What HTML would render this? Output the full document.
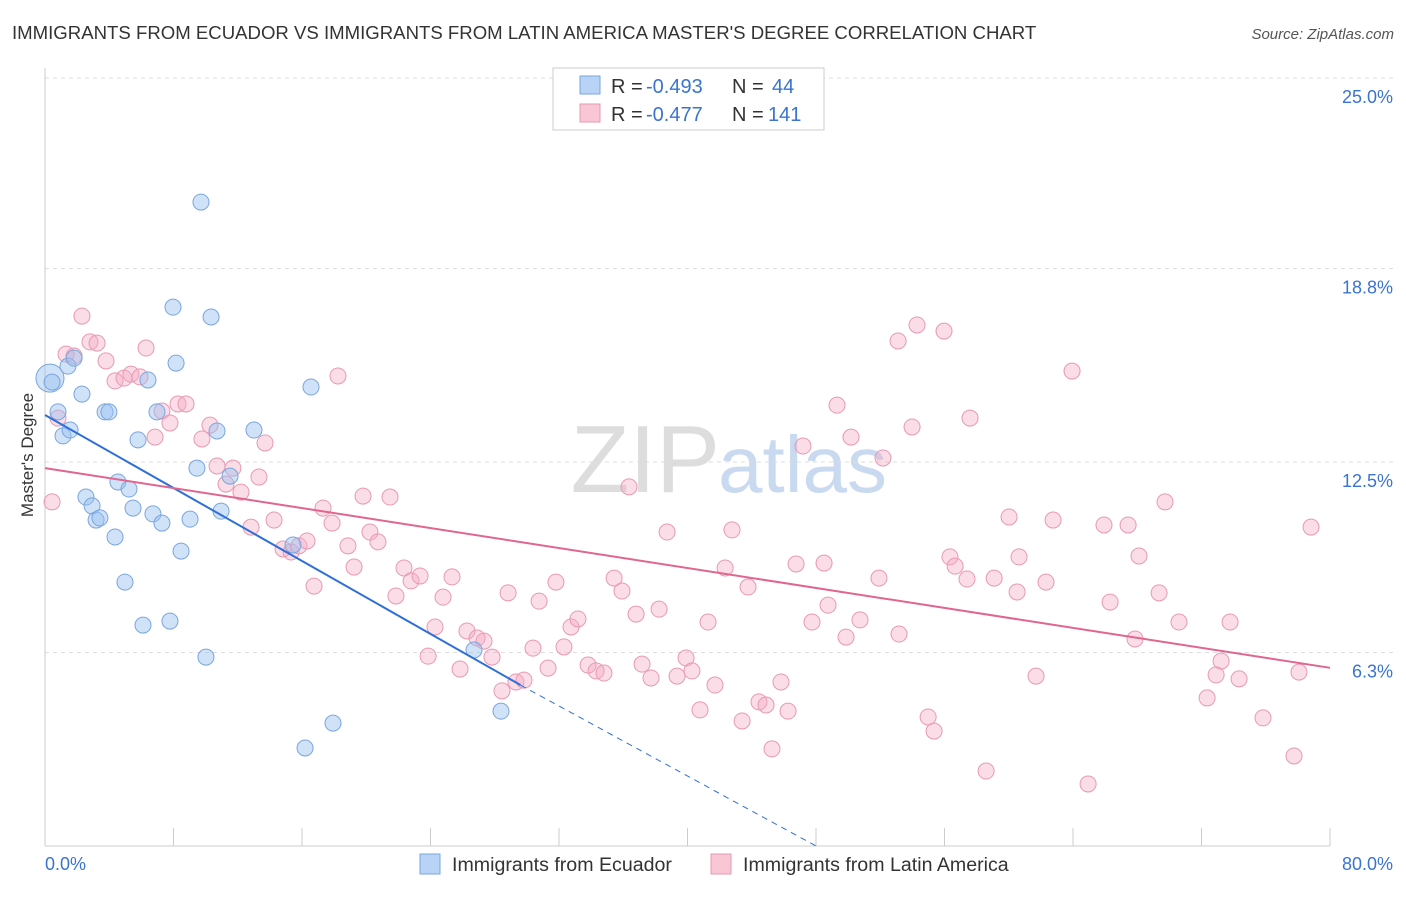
<!DOCTYPE html>
<html><head><meta charset="utf-8"><style>
body{margin:0;background:#fff;font-family:"Liberation Sans",sans-serif}
svg text{font-family:"Liberation Sans",sans-serif}
</style></head><body>
<svg id="c" width="1406" height="892" xmlns="http://www.w3.org/2000/svg">
<text x="12" y="39" font-size="18.6" fill="#333">IMMIGRANTS FROM ECUADOR VS IMMIGRANTS FROM LATIN AMERICA MASTER'S DEGREE CORRELATION CHART</text>
<text x="1394" y="39" font-size="15" fill="#555" font-style="italic" text-anchor="end">Source: ZipAtlas.com</text>
<text x="720" y="492" font-size="96" fill="#ddd" text-anchor="end" font-family="Liberation Serif">ZIP</text>
<text x="718" y="492" font-size="80" fill="#c9daf0">atlas</text>
<text transform="translate(33,455) rotate(-90)" font-size="17" fill="#333" text-anchor="middle">Master's Degree</text>
<g id="grid"></g><g id="marks"></g>
<rect x="553" y="68" width="271" height="62" fill="#fff" stroke="#ccc"/>
<rect x="580" y="76" width="20" height="18" fill="#b8d3f5" stroke="#7aa6dd"/>
<rect x="580" y="104" width="20" height="18" fill="#f8c6d5" stroke="#e899b3"/>
<g font-size="20">
<text x="611" y="93" fill="#333">R =</text><text x="646" y="93" fill="#3a74d0">-0.493</text>
<text x="732" y="93" fill="#333">N =</text><text x="772" y="93" fill="#3a74d0">44</text></g>
<g font-size="20">
<text x="611" y="121" fill="#333">R =</text><text x="646" y="121" fill="#3a74d0">-0.477</text>
<text x="732" y="121" fill="#333">N =</text><text x="768" y="121" fill="#3a74d0">141</text></g>
<rect x="420" y="854" width="20" height="20" fill="#b8d3f5" stroke="#7aa6dd"/>
<text x="452" y="871" font-size="19.6" fill="#333">Immigrants from Ecuador</text>
<rect x="711" y="854" width="20" height="20" fill="#f8c6d5" stroke="#e899b3"/>
<text x="743" y="871" font-size="19.6" fill="#333">Immigrants from Latin America</text>
<text x="45" y="870" font-size="18" fill="#3a74d0">0.0%</text>
<text x="1393" y="870" font-size="18" fill="#3a74d0" text-anchor="end">80.0%</text>
</svg>
<script>
const yTicks=[25.0,18.8,12.5,6.3];
const yTickLabels=["25.0%","18.8%","12.5%","6.3%"];
const xTicks=[0,8,16,24,32,40,48,56,64,72,80];
const ecX=[0.31,0.44,0.81,1.12,1.56,1.43,1.81,2.30,3.74,3.98,6.41,5.79,6.97,8.16,7.97,9.71,10.34,10.71,13.01,16.56,9.46,11.52,2.55,2.93,3.18,3.42,4.54,5.23,5.48,6.72,7.28,9.03,10.96,8.47,4.36,4.98,6.10,7.78,10.02,15.44,17.93,16.19,26.71,28.39];
const ecY=[15.23,15.10,14.13,13.35,13.54,15.62,15.88,14.71,14.13,14.13,15.17,13.22,14.13,15.72,17.54,20.96,17.22,13.51,13.54,14.94,12.30,12.04,11.36,11.07,10.61,10.68,11.85,11.62,11.00,10.81,10.51,10.64,10.90,9.60,10.06,8.59,7.19,7.32,6.15,9.80,4.00,3.19,6.38,4.39];
const laX=[0.44,0.81,2.30,1.31,1.81,2.80,3.24,3.80,4.36,4.92,5.35,5.91,6.29,6.85,7.28,7.78,8.28,8.78,9.77,10.27,10.71,11.70,11.27,12.20,13.32,13.70,12.83,14.26,14.82,15.32,15.81,16.31,16.75,17.31,17.87,18.24,18.86,19.24,19.80,20.23,20.73,21.48,21.85,22.35,22.79,23.35,24.28,24.78,25.34,23.85,25.84,26.27,26.90,27.33,27.83,28.45,28.83,29.32,29.82,30.38,30.76,31.32,31.81,32.31,32.75,33.18,33.81,34.31,34.80,35.43,35.92,36.36,36.80,37.17,37.73,38.23,38.73,39.35,39.91,40.28,40.78,41.28,41.71,42.34,42.77,43.40,43.77,44.45,44.89,45.26,45.82,46.26,46.76,47.19,47.75,48.50,48.75,49.31,49.87,50.18,50.74,51.92,52.17,53.11,53.17,53.98,54.29,54.98,55.35,55.97,56.34,56.66,57.40,58.59,57.59,59.09,60.02,60.52,60.64,61.70,62.32,62.76,63.94,64.94,65.93,66.31,67.43,67.86,68.11,69.36,69.73,70.60,72.35,72.91,73.22,73.78,74.34,75.83,77.76,78.07,78.82];
const laY=[11.20,13.93,17.25,16.01,15.95,16.41,16.37,15.79,15.14,15.23,15.36,15.27,16.21,13.31,14.16,13.77,14.39,14.39,13.25,13.70,12.37,12.30,11.78,11.52,12.01,13.12,10.38,10.61,9.67,9.57,9.77,9.93,8.46,11.00,10.51,15.30,9.77,9.08,11.39,10.22,9.90,11.36,8.14,9.05,8.63,8.79,7.13,8.10,8.76,6.18,5.76,7.00,6.77,6.67,6.15,5.05,8.24,5.34,5.40,6.44,7.97,5.79,8.59,6.48,7.13,7.39,5.89,5.70,5.63,8.72,8.30,11.69,7.55,5.92,5.47,7.71,10.22,5.53,6.12,5.70,4.43,7.29,5.24,9.05,10.29,4.07,8.43,4.69,4.59,3.16,5.34,4.39,9.18,13.02,7.29,9.21,7.84,14.35,6.80,13.31,7.36,8.72,12.63,16.44,6.90,13.64,16.96,4.20,3.74,16.76,9.41,9.11,8.69,2.44,13.93,8.72,10.71,8.27,9.41,5.53,8.59,10.61,15.46,2.02,10.45,7.94,10.45,6.74,9.44,8.24,11.20,7.29,4.82,5.57,6.02,7.29,5.44,4.17,2.93,5.66,10.38];
const ecTrendX=[0,29.6,48];
const ecTrendY=[14.03,5.24,0];
const laTrendX=[0,80];
const laTrendY=[12.3,5.8];
const X=v=>45+v/80*1285;
const Y=v=>846-v*30.72;
const NS="http://www.w3.org/2000/svg";
const grid=document.getElementById('grid'),marks=document.getElementById('marks');
function mk(p,tag,at){const e=document.createElementNS(NS,tag);for(const k in at)e.setAttribute(k,at[k]);p.appendChild(e);return e;}
yTicks.forEach((t,i)=>{
 const l=mk(grid,'line',{x1:45,x2:1393,y1:Y(t),y2:Y(t),stroke:'#ddd','stroke-dasharray':'4,4'});
 
 
 const tx=mk(grid,'text',{x:1393,y:Y(t)+25,'font-size':18,fill:'#3a74d0','text-anchor':'end'});
 tx.textContent=yTickLabels[i];
 
 
});
const ya=mk(grid,'line',{x1:45,x2:45,y1:68,y2:846,stroke:'#ccc'});


const xa=mk(grid,'line',{x1:45,x2:1330,y1:846,y2:846,stroke:'#ccc'});


xTicks.forEach(t=>{
 const l=mk(grid,'line',{x1:X(t),x2:X(t),y1:828,y2:846,stroke:'#ccc'});
 
 
});
laX.forEach((v,i)=>{
 const c=mk(marks,'circle',{cx:X(v),cy:Y(laY[i]),r:8,fill:'rgba(244,170,195,0.4)',stroke:'#e899b3','stroke-width':1});
 
 
});
ecX.forEach((v,i)=>{
 const c=mk(marks,'circle',{cx:X(v),cy:Y(ecY[i]),r:i==0?14:8,fill:'rgba(150,190,240,0.45)',stroke:'#7aa6dd','stroke-width':1});
 
 
});
const l1=mk(marks,'line',{x1:X(ecTrendX[0]),y1:Y(ecTrendY[0]),x2:X(ecTrendX[1]),y2:Y(ecTrendY[1]),stroke:'#2f6fd8','stroke-width':2});


const l2=mk(marks,'line',{x1:X(ecTrendX[1]),y1:Y(ecTrendY[1]),x2:X(ecTrendX[2]),y2:Y(ecTrendY[2]),stroke:'#2f6fd8','stroke-width':1,'stroke-dasharray':'6,5'});


const l3=mk(marks,'line',{x1:X(laTrendX[0]),y1:Y(laTrendY[0]),x2:X(laTrendX[1]),y2:Y(laTrendY[1]),stroke:'#e0658f','stroke-width':2});


</script>
</body></html>
